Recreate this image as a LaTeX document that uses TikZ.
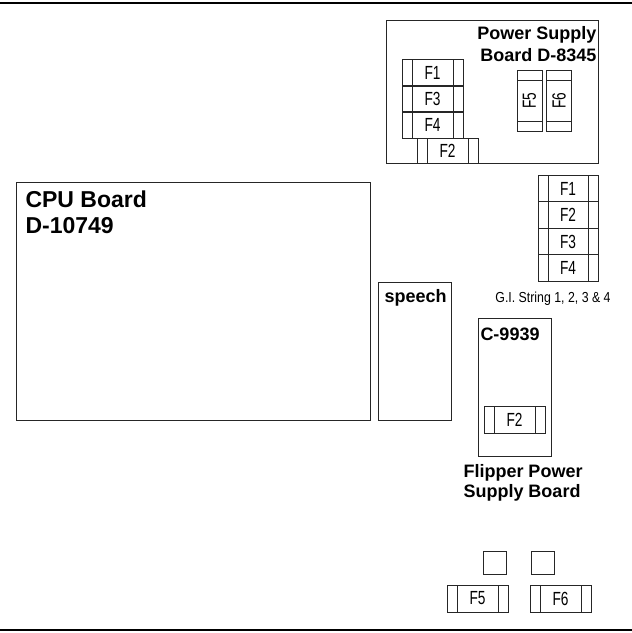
\documentclass[tikz,border=0pt]{standalone}
\usepackage{fontspec}
\setmainfont{Liberation Sans}
\newfontfamily\narrowfont[FakeStretch=0.72]{Liberation Sans}
\newfontfamily\ginarrow[FakeStretch=0.85]{Liberation Sans}
\begin{document}
\begin{tikzpicture}[x=1pt,y=-1pt,
  every path/.style={line width=1pt},
  box/.style={draw=black!85, line width=1pt},
  fuseh/.style={draw=black!85, line width=1pt, rectangle, minimum width=61pt, minimum height=27pt, inner sep=0pt,
    font=\narrowfont\fontsize{19}{19}\selectfont,
    path picture={
      \draw[black!85, line width=1pt] ([xshift=10pt]path picture bounding box.north west) -- ([xshift=10pt]path picture bounding box.south west);
      \draw[black!85, line width=1pt] ([xshift=-10pt]path picture bounding box.north east) -- ([xshift=-10pt]path picture bounding box.south east);
    }},
  fusev/.style={draw=black!85, line width=1pt, rectangle, minimum width=25pt, minimum height=61pt, inner sep=0pt,
    font=\narrowfont\fontsize{19}{19}\selectfont,
    path picture={
      \draw[black!85, line width=1pt] ([yshift=-10pt]path picture bounding box.north west) -- ([yshift=-10pt]path picture bounding box.north east);
      \draw[black!85, line width=1pt] ([yshift=10pt]path picture bounding box.south west) -- ([yshift=10pt]path picture bounding box.south east);
    }},
  title/.style={inner sep=0pt, font=\bfseries\fontsize{18}{22}\selectfont},
]
\useasboundingbox (0,0) rectangle (632,633);

% rules top and bottom
\coordinate (tl) at (0,3);
\coordinate (tr) at (632,3);
\coordinate (bl) at (0,630);
\coordinate (br) at (632,630);
\draw[line width=2.2pt] (tl) -- (tr);
\draw[line width=2.2pt] (bl) -- (br);

% Power supply board
\node[box, minimum width=212pt, minimum height=143pt, inner sep=0pt, anchor=north west] (psb) at (386,20) {};
\node[title, anchor=base east] (pst1) at (597,39) {Power Supply};
\node[title, anchor=base east] (pst2) at (597,61) {Board D-8345};
\node[fuseh] (psf1) at (432.5,72.5) {F1};
\node[fuseh] (psf3) at (432.5,99) {F3};
\node[fuseh] (psf4) at (432.5,125) {F4};
\node[fuseh, minimum height=25pt] (psf2) at (447.5,150.5) {F2};
\node[fusev] (psf5) at (529.5,100.5) {\rotatebox{90}{F5}};
\node[fusev] (psf6) at (559,100.5) {\rotatebox{90}{F6}};

% G.I. string fuses
\node[fuseh, minimum width=60pt, minimum height=26.5pt] (gf1) at (568,188.5) {F1};
\node[fuseh, minimum width=60pt, minimum height=26.5pt] (gf2) at (568,215) {F2};
\node[fuseh, minimum width=60pt, minimum height=26.5pt] (gf3) at (568,241.5) {F3};
\node[fuseh, minimum width=60pt, minimum height=26.5pt] (gf4) at (568,268) {F4};
\node[inner sep=0pt, anchor=base, font=\ginarrow\fontsize{14.5}{14.5}\selectfont] (gil) at (553,302) {G.I. String 1, 2, 3 \& 4};

% CPU board
\node[box, minimum width=354pt, minimum height=238pt, inner sep=0pt, anchor=north west] (cpu) at (16,182) {};
\node[inner sep=0pt, anchor=base west, font=\bfseries\fontsize{23}{23}\selectfont] (cput1) at (25,207) {CPU Board};
\node[inner sep=0pt, anchor=base west, font=\bfseries\fontsize{23}{23}\selectfont] (cput2) at (25,233) {D-10749};

% speech board
\node[box, minimum width=73pt, minimum height=138pt, inner sep=0pt, anchor=north west] (sp) at (378,282) {};
\node[title, anchor=base west] (spt) at (384,302) {speech};

% Flipper power supply board
\node[box, minimum width=73pt, minimum height=138pt, inner sep=0pt, anchor=north west] (fp) at (478,318) {};
\node[title, anchor=base west] (fpt) at (480,340) {C-9939};
\node[fuseh] (fpf2) at (514.5,419.5) {F2};
\node[title, anchor=base west] (fpl1) at (463,477) {Flipper Power};
\node[title, anchor=base west] (fpl2) at (463,497) {Supply Board};

% bottom squares and fuses
\node[box, minimum width=23pt, minimum height=23pt, inner sep=0pt] (sq1) at (494.5,562.5) {};
\node[box, minimum width=23pt, minimum height=23pt, inner sep=0pt] (sq2) at (542.5,562.5) {};
\node[fuseh] (bf5) at (477.5,598.5) {F5};
\node[fuseh] (bf6) at (560.5,598.5) {F6};
\end{tikzpicture}
\end{document}
